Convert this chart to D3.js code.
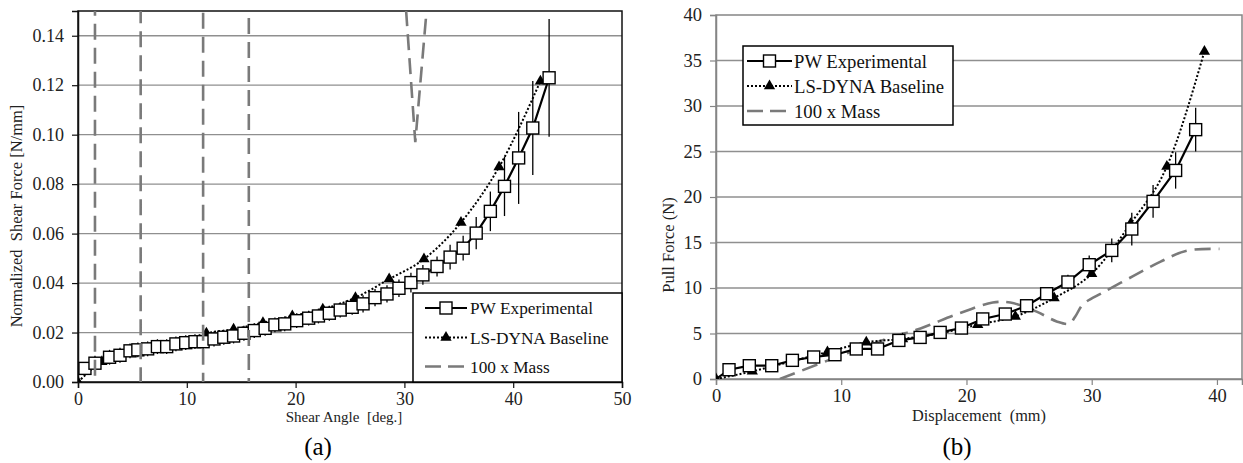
<!DOCTYPE html>
<html>
<head>
<meta charset="utf-8">
<script src="https://cdn.jsdelivr.net/npm/d3@7"></script>
<style>
  body { margin: 0; background: #fff; }
  svg { font-family: "Liberation Serif", "Times New Roman", serif; }
</style>
</head>
<body>
<div id="wrapper"></div>
<script>
// ---- (a) shear test data
const pwAngle = [0.64, 1.56, 2.9, 3.86, 4.78, 5.5, 6.4, 7.3, 8.15, 9.0, 9.9, 10.75, 11.5, 12.5, 13.4, 14.3, 15.25, 16.2, 17.2, 18.1, 19.0, 20.1, 21.2, 22.1, 23.1, 24.1, 25.2, 26.2, 27.3, 28.4, 29.5, 30.6, 31.7, 33.0, 34.2, 35.4, 36.6, 37.9, 39.2, 40.5, 41.8, 43.3]
const pwShear = [0.0055, 0.0076, 0.0100, 0.0108, 0.0126, 0.0130, 0.0134, 0.0143, 0.0143, 0.0154, 0.0159, 0.0163, 0.0163, 0.0174, 0.0181, 0.0186, 0.0197, 0.0208, 0.0217, 0.0231, 0.0235, 0.0248, 0.0258, 0.0267, 0.0278, 0.0291, 0.0302, 0.0316, 0.0341, 0.0356, 0.0379, 0.0402, 0.0433, 0.0467, 0.0505, 0.0541, 0.0602, 0.0690, 0.0791, 0.0906, 0.1027, 0.1230]
const pwShearErr = [0.002, 0.003, 0.003, 0.003, 0.003, 0.003, 0.003, 0.003, 0.003, 0.003, 0.003, 0.003, 0.003, 0.003, 0.003, 0.003, 0.003, 0.003, 0.003, 0.003, 0.003, 0.003, 0.003, 0.003, 0.003, 0.003, 0.003, 0.0035, 0.0035, 0.0035, 0.0035, 0.004, 0.004, 0.004, 0.005, 0.005, 0.0065, 0.008, 0.012, 0.0186, 0.019, 0.0238]
const dynaAngle = [0, 2.2, 4.5, 6.9, 9.2, 11.8, 14.3, 17.0, 19.7, 22.5, 25.5, 28.6, 31.8, 35.2, 38.7, 42.5]
const dynaShear = [0, 0.0082, 0.0119, 0.0134, 0.0157, 0.0197, 0.0213, 0.0240, 0.0267, 0.0294, 0.0341, 0.0416, 0.0497, 0.0645, 0.0869, 0.1216]
// 100 x mass run swings far outside the plot range (null = break in the line)
const massAngle = [0, 1.56, 1.56, 5.76, 5.76, 11.5, 11.5, 15.7, 15.7, null, 30.0, 31.0, 32.23]
const massShear = [-0.01, -0.01, 0.16, 0.16, -0.01, -0.01, 0.16, 0.16, -0.01, null, 0.16, 0.097, 0.16]

// ---- (b) pull test data
const pwDisp = [0, 1.04, 2.66, 4.45, 6.1, 7.8, 9.5, 11.2, 12.9, 14.6, 16.3, 17.9, 19.6, 21.3, 23.1, 24.8, 26.4, 28.1, 29.8, 31.6, 33.2, 34.9, 36.7, 38.3]
const pwPull = [0, 1.02, 1.46, 1.46, 2.05, 2.42, 2.67, 3.30, 3.30, 4.24, 4.57, 5.12, 5.6, 6.6, 7.14, 8.05, 9.37, 10.66, 12.56, 14.13, 16.48, 19.52, 22.92, 27.4]
const pwPullErr = [0, 0.4, 0.4, 0.4, 0.4, 0.4, 0.4, 0.4, 0.4, 0.4, 0.4, 0.5, 0.5, 0.5, 0.5, 0.6, 0.6, 0.8, 1.0, 1.3, 1.8, 1.8, 2.0, 2.4]
const dynaDisp = [0, 2.9, 6.0, 8.9, 12.0, 14.9, 18.0, 20.9, 23.9, 27.0, 30.0, 33.1, 36.0, 39.0]
const dynaPull = [0, 0.84, 1.93, 2.97, 4.03, 4.4, 5.05, 5.97, 6.88, 8.9, 11.57, 17.07, 23.36, 36.0]
const massDisp = [5.1, 8.3, 10, 12, 14, 16, 17.1, 19.5, 22.1, 23.5, 25.6, 27.2, 28.2, 28.7, 29.3, 30.9, 33.3, 35.5, 37.6, 40.2]
const massPull = [0, 1.7, 2.6, 3.6, 4.6, 5.4, 5.97, 7.25, 8.4, 8.4, 7.4, 6.33, 6.08, 6.9, 8.2, 9.5, 11.3, 12.9, 14.1, 14.3]

const legendLabels = ["PW Experimental", "LS-DYNA Baseline", "100 x Mass"]

const zip = (xs, ys) => xs.map((x, i) => [x, ys[i]])

const svg = d3.select("#wrapper")
    .append("svg")
    .attr("width", 1243)
    .attr("height", 463)

function drawPanel(p) {
    const xScale = d3.scaleLinear().domain(p.xDomain).range([p.left, p.right])
    const yScale = d3.scaleLinear().domain(p.yDomain).range([p.bottom, p.top])
    const g = svg.append("g")

    // gridlines
    g.selectAll(".grid")
        .data(p.yTicks.filter(t => t > 0 && t < p.yDomain[1]))
        .enter().append("line")
        .attr("x1", p.left).attr("x2", p.right)
        .attr("y1", d => yScale(d)).attr("y2", d => yScale(d))
        .attr("stroke", "#8f8f8f").attr("stroke-width", 1.3)

    // plot border
    g.append("rect")
        .attr("x", p.left).attr("y", p.top)
        .attr("width", p.right - p.left).attr("height", p.bottom - p.top)
        .attr("fill", "none").attr("stroke", p.borderColor).attr("stroke-width", 1.5)

    // axes
    const yAxis = d3.axisLeft(yScale).tickValues(p.yTicks).tickFormat(p.yFormat).tickSizeOuter(0).tickSize(6).tickPadding(8)
    const xAxis = d3.axisBottom(xScale).tickValues(p.xTicks).tickFormat(d3.format("d")).tickSizeOuter(0).tickSize(6).tickPadding(4)
    const ya = g.append("g").attr("transform", `translate(${p.left},0)`).call(yAxis)
    const xa = g.append("g").attr("transform", `translate(0,${p.bottom})`).call(xAxis)
    ;[ya, xa].forEach(a => {
        a.attr("font-family", null)
        a.select(".domain").attr("stroke", p.axisColor).attr("stroke-width", 1.5)
        a.selectAll(".tick line").attr("stroke", p.axisColor).attr("stroke-width", 1.2)
        a.selectAll("text").attr("fill", "#222").style("font-size", p.tickFont + "px")
    })

    const clipId = "clip" + p.id
    svg.append("clipPath").attr("id", clipId)
        .append("rect").attr("x", p.left).attr("y", p.top)
        .attr("width", p.right - p.left).attr("height", p.bottom - p.top)

    const plot = g.append("g").attr("clip-path", `url(#${clipId})`)

    const massLine = d3.line().defined(d => d[0] != null)
        .x(d => xScale(d[0])).y(d => yScale(d[1]))
        .curve(p.massCurve)
    const drawMass = () => plot.append("path")
        .attr("d", massLine(p.mass))
        .attr("fill", "none").attr("stroke", "#7a7a7a").attr("stroke-width", 2.6).attr("stroke-dasharray", "16,8")

    if (!p.massOnTop) drawMass()

    // LS-DYNA dotted curve
    const smooth = d3.line().x(d => xScale(d[0])).y(d => yScale(d[1])).curve(d3.curveMonotoneX)
    plot.append("path")
        .attr("d", smooth(p.dyna))
        .attr("fill", "none").attr("stroke", "#000").attr("stroke-width", 2).attr("stroke-dasharray", "2,2")

    // error bars
    plot.selectAll(".err")
        .data(p.pw)
        .enter().append("line")
        .attr("x1", d => xScale(d[0])).attr("x2", d => xScale(d[0]))
        .attr("y1", d => yScale(d[1] - d[2])).attr("y2", d => yScale(d[1] + d[2]))
        .attr("stroke", "#000").attr("stroke-width", 1.3)

    // PW solid line
    const straight = d3.line().x(d => xScale(d[0])).y(d => yScale(d[1]))
    plot.append("path")
        .attr("d", straight(p.pw))
        .attr("fill", "none").attr("stroke", "#000").attr("stroke-width", 2.2)

    // triangles
    plot.selectAll(".tri")
        .data(p.dyna)
        .enter().append("path")
        .attr("d", d3.symbol(d3.symbolTriangle, 55))
        .attr("transform", d => `translate(${xScale(d[0])},${yScale(d[1])})`)
        .attr("fill", "#000")

    // squares
    plot.selectAll(".sq")
        .data(p.pw.filter(d => d[0] > 0))
        .enter().append("rect")
        .attr("x", d => xScale(d[0]) - 6).attr("y", d => yScale(d[1]) - 6)
        .attr("width", 12).attr("height", 12)
        .attr("fill", "#fff").attr("stroke", "#000").attr("stroke-width", 1.4)

    if (p.massOnTop) drawMass()

    // titles
    g.append("text")
        .attr("x", p.xTitleX).attr("y", p.xTitleY)
        .attr("text-anchor", "middle").style("font-size", p.titleFont + "px").attr("fill", "#222")
        .attr("xml:space", "preserve")
        .text(p.xTitle)
    g.append("text")
        .attr("transform", `translate(${p.yTitleX},${p.yTitleY}) rotate(-90)`)
        .attr("text-anchor", "middle").style("font-size", p.yTitleFont + "px").attr("fill", "#222")
        .attr("xml:space", "preserve")
        .text(p.yTitle)
    g.append("text")
        .attr("x", p.captionX).attr("y", 455)
        .attr("text-anchor", "middle").style("font-size", "25px").attr("fill", "#000")
        .text(p.caption)

    // legend
    const L = p.legend
    const lg = g.append("g")
    lg.append("rect")
        .attr("x", L.x).attr("y", L.y).attr("width", L.w).attr("height", L.h)
        .attr("fill", "#fff").attr("stroke", "#000").attr("stroke-width", 1.5)
    const mid = (L.s0 + L.s1) / 2
    legendLabels.forEach((label, i) => {
        const y = L.rows[i]
        const ln = lg.append("line").attr("x1", L.s0).attr("x2", L.s1).attr("y1", y).attr("y2", y)
        if (i === 0) {
            ln.attr("stroke", "#000").attr("stroke-width", 2.2)
            lg.append("rect").attr("x", mid - 6).attr("y", y - 6).attr("width", 12).attr("height", 12)
                .attr("fill", "#fff").attr("stroke", "#000").attr("stroke-width", 1.4)
        } else if (i === 1) {
            ln.attr("stroke", "#000").attr("stroke-width", 2).attr("stroke-dasharray", "2,2")
            lg.append("path").attr("d", d3.symbol(d3.symbolTriangle, 55))
                .attr("transform", `translate(${mid},${y})`).attr("fill", "#000")
        } else {
            ln.attr("stroke", "#7a7a7a").attr("stroke-width", 2.6).attr("stroke-dasharray", "16,7")
        }
        lg.append("text")
            .attr("x", L.tx).attr("y", y).attr("dy", "0.35em")
            .style("font-size", L.font + "px").attr("fill", "#111")
            .text(label)
    })
}

drawPanel({
    id: "a",
    left: 78, right: 622, top: 11, bottom: 382,
    xDomain: [0, 50], yDomain: [0, 0.15],
    xTicks: [0, 10, 20, 30, 40, 50],
    yTicks: [0, 0.02, 0.04, 0.06, 0.08, 0.10, 0.12, 0.14],
    yFormat: d3.format(".2f"),
    borderColor: "#111", axisColor: "#111",
    tickFont: 18, titleFont: 15, yTitleFont: 16.5,
    xTitle: "Shear Angle  [deg.]", xTitleX: 344, xTitleY: 422,
    yTitle: "Normalized  Shear Force [N/mm]", yTitleX: 22, yTitleY: 216,
    caption: "(a)", captionX: 318,
    pw: pwAngle.map((x, i) => [x, pwShear[i], pwShearErr[i]]),
    dyna: zip(dynaAngle, dynaShear),
    mass: zip(massAngle, massShear),
    massCurve: d3.curveLinear, massOnTop: true,
    legend: { x: 413, y: 293, w: 209, h: 89, rows: [308, 337.5, 366.5], s0: 425, s1: 467, tx: 470, font: 17.3 }
})

drawPanel({
    id: "b",
    left: 716, right: 1242, top: 15, bottom: 379,
    xDomain: [0, 42], yDomain: [0, 40],
    xTicks: [0, 10, 20, 30, 40],
    yTicks: [0, 5, 10, 15, 20, 25, 30, 35, 40],
    yFormat: d3.format("d"),
    borderColor: "#858585", axisColor: "#858585",
    tickFont: 18.5, titleFont: 16.3, yTitleFont: 16.5,
    xTitle: "Displacement  (mm)", xTitleX: 979, xTitleY: 421,
    yTitle: "Pull Force (N)", yTitleX: 674, yTitleY: 245,
    caption: "(b)", captionX: 957,
    pw: pwDisp.map((x, i) => [x, pwPull[i], pwPullErr[i]]),
    dyna: zip(dynaDisp, dynaPull),
    mass: zip(massDisp, massPull),
    massCurve: d3.curveCatmullRom, massOnTop: false,
    legend: { x: 743, y: 46, w: 210, h: 79, rows: [61, 86, 111], s0: 747, s1: 792, tx: 794, font: 18.7 }
})
</script>
</body>
</html>
